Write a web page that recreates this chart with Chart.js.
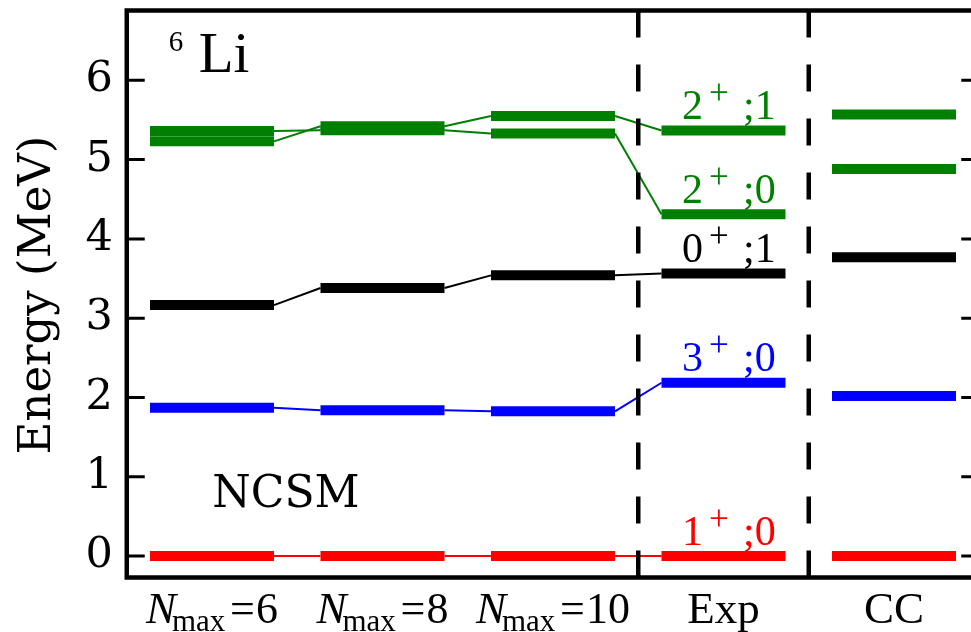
<!DOCTYPE html>
<html><head><meta charset="utf-8">
<script src="https://cdn.jsdelivr.net/npm/chart.js@4.4.1/dist/chart.umd.min.js"></script>
<style>html,body{margin:0;padding:0;overflow:hidden;background:#fff}canvas{display:block}</style>
</head><body>
<canvas id="c" width="1000" height="632"></canvas>
<script>
// ---- data ----
const categories = ['Nmax=6', 'Nmax=8', 'Nmax=10', 'Exp', 'CC'];
const nmaxValues = ['6', '8', '10'];
const otherLabels = ['Exp', 'CC'];
const yTicks = [0, 1, 2, 3, 4, 5, 6];
const yRange = [-0.27, 6.88];
const separators = [2.5, 3.5];

const level1p0 = [0, 0, 0, 0, 0];
const level3p0 = [1.87, 1.84, 1.825, 2.186, 2.02];
const level0p1 = [3.165, 3.38, 3.54, 3.563, 3.77];
const level2p0 = [5.36, 5.37, 5.33, 4.312, 4.88];
const level2p1 = [5.23, 5.42, 5.55, 5.366, 5.57];
const levelNames = ['1+;0', '3+;0', '0+;1', '2+;0', '2+;1'];
const levelColors = ['#ff0000', '#0000ff', '#000000', '#008000', '#008000'];
const levels = [level1p0, level3p0, level0p1, level2p0, level2p1];
const connectedCount = 4; // connectors link Nmax=6 -> 8 -> 10 -> Exp

// ---- build datasets ----
const HW = 0.3636;
const barDatasets = [], connDatasets = [], sepDatasets = [];
levels.forEach((vals, li) => {
  vals.forEach((v, i) => {
    barDatasets.push({data: [{x: i - HW, y: v}, {x: i + HW, y: v}], borderColor: levelColors[li], borderWidth: 10});
    if (i < connectedCount - 1) {
      connDatasets.push({data: [{x: i + HW, y: v}, {x: i + 1 - HW, y: vals[i + 1]}], borderColor: levelColors[li], borderWidth: 2});
    }
  });
});
separators.forEach(s => {
  sepDatasets.push({data: [{x: s, y: yRange[0]}, {x: s, y: yRange[1]}], borderColor: '#000', borderWidth: 4.5, borderDash: [27, 27]});
});
const datasets = [...barDatasets, ...sepDatasets, ...connDatasets].map(d => Object.assign({
  pointRadius: 0, tension: 0, borderCapStyle: 'butt', fill: false
}, d));

const SERIF = "'Liberation Serif', 'Times New Roman', serif";
const DJS = "'DejaVu Serif', serif";

const deco = {
  id: 'deco',
  afterDraw(chart) {
    const {ctx, chartArea: a, scales: {x, y}} = chart;
    ctx.save();
    // ticks inward
    ctx.strokeStyle = '#000'; ctx.lineWidth = 3;
    yTicks.forEach(t => {
      const py = y.getPixelForValue(t);
      ctx.beginPath();
      ctx.moveTo(a.left, py); ctx.lineTo(a.left + 18, py);
      ctx.moveTo(a.right, py); ctx.lineTo(a.right - 18, py);
      ctx.stroke();
    });
    // frame
    ctx.lineWidth = 4.5;
    ctx.strokeRect(a.left, a.top, a.right - a.left, a.bottom - a.top);

    // level labels at Exp column
    const ex = x.getPixelForValue(3);
    levels.forEach((vals, li) => {
      const name = levelNames[li];
      const base = y.getPixelForValue(vals[3]) - 11.3;
      const x0 = ex - 41.5;
      ctx.fillStyle = levelColors[li];
      ctx.textAlign = 'left'; ctx.textBaseline = 'alphabetic';
      ctx.font = '42px ' + SERIF;
      ctx.fillText(name[0], x0, base);
      ctx.font = '35px ' + SERIF;
      ctx.fillText(name[1], x0 + 27, base - 15);
      ctx.font = '42px ' + SERIF;
      ctx.fillText(name.slice(2), x0 + 61, base);
    });

    // x category labels
    ctx.fillStyle = '#000';
    const xb = 623;
    nmaxValues.forEach((n, i) => {
      ctx.font = '44px ' + SERIF;
      const nw = ctx.measureText(n).width;
      const total = 110 + nw;
      const x0 = x.getPixelForValue(i) - total / 2;
      ctx.textAlign = 'left';
      ctx.font = 'italic 45px ' + SERIF;
      ctx.fillText('N', x0, xb);
      ctx.font = '31px ' + SERIF;
      ctx.fillText('max', x0 + 26, xb + 8);
      ctx.font = '44px ' + SERIF;
      ctx.fillText('=', x0 + 84, xb);
      ctx.fillText(n, x0 + 110, xb);
    });
    otherLabels.forEach((t, k) => {
      ctx.font = '45px ' + SERIF;
      ctx.textAlign = 'center';
      ctx.fillText(t, x.getPixelForValue(3 + k), xb);
    });

    // 6Li
    ctx.textAlign = 'left';
    ctx.font = '29px ' + SERIF;
    ctx.fillText('6', a.left + 42, 51);
    ctx.font = '57px ' + SERIF;
    ctx.fillText('Li', a.left + 72, 72);

    // NCSM
    ctx.font = '44px ' + DJS;
    ctx.fillText('NCSM', a.left + 85.5, 507);

    // y title
    ctx.save();
    ctx.translate(50, 295);
    ctx.rotate(-Math.PI / 2);
    ctx.textAlign = 'center';
    ctx.font = '45px ' + DJS;
    ctx.fillText('Energy (MeV)', 0, 0);
    ctx.restore();

    ctx.restore();
  }
};

new Chart(document.getElementById('c'), {
  type: 'line',
  data: {datasets},
  options: {
    responsive: false, animation: false, events: [],
    layout: {padding: {left: 0, right: 20.75, top: 10.5, bottom: 0}},
    plugins: {legend: {display: false}, tooltip: {enabled: false}},
    scales: {
      x: {type: 'linear', min: -0.5, max: 4.5,
          grid: {display: false, drawTicks: false}, border: {display: false},
          ticks: {display: false},
          afterFit: s => { s.height = 54.5; s.paddingLeft = 0; s.paddingRight = 0; s.paddingTop = 0; s.paddingBottom = 0; }},
      y: {type: 'linear', min: yRange[0], max: yRange[1],
          afterBuildTicks: s => { s.ticks = yTicks.map(v => ({value: v})); },
          grid: {display: false, drawTicks: false}, border: {display: false},
          ticks: {color: '#000', padding: 14, font: {family: 'DejaVu Serif', size: 43},
                  callback: v => String(v)},
          afterFit: s => { s.width = 126.75; s.paddingTop = 0; s.paddingBottom = 0; s.paddingLeft = 0; s.paddingRight = 0; }}
    }
  },
  plugins: [deco]
});
</script>
</body></html>
